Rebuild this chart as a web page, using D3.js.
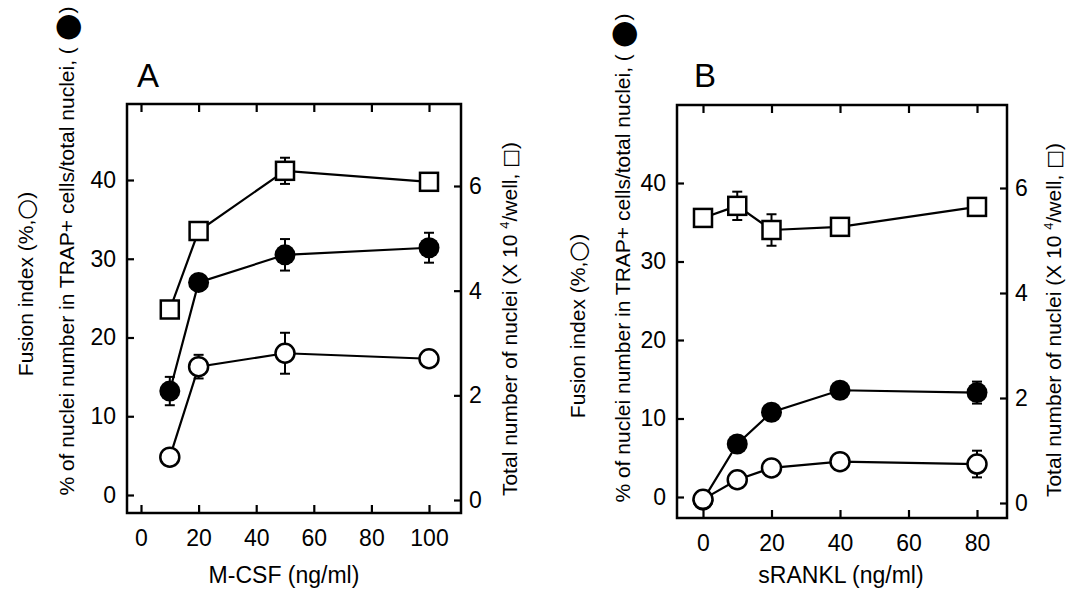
<!DOCTYPE html>
<html>
<head>
<meta charset="utf-8">
<script src="https://cdn.jsdelivr.net/npm/d3@7"></script>
<style>
  body { margin: 0; background: #fff; }
  svg { display: block; font-family: "Liberation Sans", Arial, sans-serif; }
</style>
</head>
<body>
<svg width="1068" height="593"></svg>
<script>
// panel A : M-CSF dose
const doseA = [10, 20, 50, 100];
const fusionA = [4.8, 16.3, 18.0, 17.3];
const fusionErrA = [0, 1.5, 2.6, 0];
const trapA = [13.2, 27.0, 30.5, 31.4];
const trapErrA = [1.8, 0, 2.0, 1.9];
const totalA = [3.64, 5.14, 6.29, 6.08];
const totalErrA = [0, 0, 0.25, 0];

// panel B : sRANKL dose
const doseB = [0, 10, 20, 40, 80];
const fusionB = [-0.3, 2.2, 3.7, 4.5, 4.2];
const fusionErrB = [0, 0, 0, 0, 1.7];
const trapB = [-0.4, 6.75, 10.8, 13.6, 13.3];
const trapErrB = [0, 0, 0, 0, 1.4];
const totalB = [5.43, 5.66, 5.2, 5.26, 5.64];
const totalErrB = [0, 0.27, 0.3, 0, 0];

// tick labels
const xTicksA = [0, 20, 40, 60, 80, 100];
const xTicksB = [0, 20, 40, 60, 80];
const leftTicks = [0, 10, 20, 30, 40];
const rightTicks = [0, 2, 4, 6];

const svg = d3.select('svg');

function drawPanel(p) {
    const g = svg.append('g');
    const x = d3.scaleLinear().domain(p.xDomain).range(p.xRange);
    const yL = d3.scaleLinear().domain([0, 40]).range(p.yLRange);
    const yR = d3.scaleLinear().domain([0, 6]).range(p.yRRange);
    const f = p.frame;
    const fmt = d3.format('d');

    // axes, ticks point inward
    const styleAxis = (ax) => {
        ax.select('.domain').remove();
        ax.selectAll('.tick line').attr('stroke', '#000').attr('stroke-width', 2.2);
        ax.selectAll('.tick text')
            .attr('fill', '#000')
            .attr('font-size', 23)
            .attr('font-family', '"Liberation Sans", Arial, sans-serif');
    };
    styleAxis(g.append('g').attr('transform', `translate(0,${f.b})`)
        .call(d3.axisBottom(x).tickValues(p.xTicks).tickFormat(fmt).tickSize(-8).tickPadding(17)));
    styleAxis(g.append('g').attr('transform', `translate(0,${f.t})`)
        .call(d3.axisTop(x).tickValues(p.xTicks).tickSize(-8).tickFormat('')));
    styleAxis(g.append('g').attr('transform', `translate(${f.l},0)`)
        .call(d3.axisLeft(yL).tickValues(leftTicks).tickFormat(fmt).tickSize(-7).tickPadding(11)));
    styleAxis(g.append('g').attr('transform', `translate(${f.r},0)`)
        .call(d3.axisRight(yR).tickValues(rightTicks).tickFormat(fmt).tickSize(-7).tickPadding(8)));

    g.append('rect')
        .attr('x', f.l).attr('y', f.t)
        .attr('width', f.r - f.l).attr('height', f.b - f.t)
        .attr('fill', 'none').attr('stroke', '#000').attr('stroke-width', 2.5);

    const series = [
        {vals: p.total, err: p.totalErr, y: yR, kind: 'square'},
        {vals: p.trap, err: p.trapErr, y: yL, kind: 'filled'},
        {vals: p.fusion, err: p.fusionErr, y: yL, kind: 'open'}
    ];

    series.forEach(s => {
        const pts = p.dose.map((d, i) => ({d: d, v: s.vals[i], e: s.err[i]}));
        g.append('path')
            .datum(pts)
            .attr('fill', 'none').attr('stroke', '#000').attr('stroke-width', 2.2)
            .attr('d', d3.line().x(d => x(d.d)).y(d => s.y(d.v)));
        s.pts = pts;
    });

    series.forEach(s => {
        const eb = g.append('g').attr('stroke', '#000').attr('stroke-width', 2);
        const withErr = s.pts.filter(d => d.e > 0);
        eb.selectAll('.v').data(withErr).join('line')
            .attr('x1', d => x(d.d)).attr('x2', d => x(d.d))
            .attr('y1', d => s.y(d.v - d.e)).attr('y2', d => s.y(d.v + d.e));
        [1, -1].forEach(sg => {
            eb.selectAll('.c' + sg).data(withErr).join('line')
                .attr('x1', d => x(d.d) - 5).attr('x2', d => x(d.d) + 5)
                .attr('y1', d => s.y(d.v + sg * d.e)).attr('y2', d => s.y(d.v + sg * d.e));
        });
    });

    series.forEach(s => {
        if (s.kind === 'square') {
            g.selectAll(null).data(s.pts).join('rect')
                .attr('x', d => x(d.d) - 9).attr('y', d => s.y(d.v) - 9)
                .attr('width', 18).attr('height', 18)
                .attr('fill', '#fff').attr('stroke', '#000').attr('stroke-width', 2.5);
        } else if (s.kind === 'filled') {
            g.selectAll(null).data(s.pts).join('circle')
                .attr('cx', d => x(d.d)).attr('cy', d => s.y(d.v)).attr('r', 10.5)
                .attr('fill', '#000');
        } else {
            g.selectAll(null).data(s.pts).join('circle')
                .attr('cx', d => x(d.d)).attr('cy', d => s.y(d.v)).attr('r', 9.5)
                .attr('fill', '#fff').attr('stroke', '#000').attr('stroke-width', 2.5);
        }
    });

    // panel letter
    g.append('text').attr('x', p.letterX).attr('y', 87)
        .attr('font-size', 33).text(p.letter);

    // x title
    g.append('text').attr('x', p.xTitleX).attr('y', 583)
        .attr('text-anchor', 'middle').attr('font-size', 23).text(p.xTitle);

    // rotated titles
    const vt = (bx, cy) => g.append('text')
        .attr('transform', `translate(${bx},${cy}) rotate(-90)`)
        .attr('text-anchor', 'middle').attr('font-size', 21);

    const t1 = vt(p.t1[0], p.t1[1]);
    t1.append('tspan').text('Fusion index (%,');
    t1.append('tspan').attr('font-family', '"DejaVu Sans"').attr('font-size', 24).attr('dy', 1).text('○');
    t1.append('tspan').attr('dy', -1).text(')');

    const t2 = vt(p.t2[0], p.t2[1]);
    t2.append('tspan').text('% of nuclei number in TRAP+ cells/total nuclei, ( ');
    t2.append('tspan').attr('font-family', '"DejaVu Sans"').attr('font-size', 32).attr('dy', 3).text('●');
    t2.append('tspan').attr('dy', -3).text(')');

    const t3 = vt(p.t3[0], p.t3[1]);
    t3.append('tspan').text('Total number of nuclei (X 10 ');
    t3.append('tspan').attr('font-size', 13).attr('dy', -8).text('4');
    t3.append('tspan').attr('dy', 8).text('/well, ');
    t3.append('tspan').attr('font-family', '"DejaVu Sans"').attr('font-size', 20).text('□');
    t3.append('tspan').text(')');
}

drawPanel({
    dose: doseA, fusion: fusionA, fusionErr: fusionErrA, trap: trapA, trapErr: trapErrA,
    total: totalA, totalErr: totalErrA, xTicks: xTicksA,
    xDomain: [0, 100], xRange: [141, 429], yLRange: [495, 180], yRRange: [500, 186],
    frame: {l: 127, r: 461, t: 104, b: 513},
    letter: 'A', letterX: 137, xTitle: 'M-CSF (ng/ml)', xTitleX: 284,
    t1: [33, 284], t2: [74, 251], t3: [517, 319]
});

drawPanel({
    dose: doseB, fusion: fusionB, fusionErr: fusionErrB, trap: trapB, trapErr: trapErrB,
    total: totalB, totalErr: totalErrB, xTicks: xTicksB,
    xDomain: [0, 80], xRange: [703, 977], yLRange: [497, 183], yRRange: [503, 188],
    frame: {l: 677, r: 1007, t: 105, b: 518},
    letter: 'B', letterX: 694, xTitle: 'sRANKL (ng/ml)', xTitleX: 841,
    t1: [585, 326], t2: [630, 258], t3: [1061, 320]
});
</script>
</body>
</html>
